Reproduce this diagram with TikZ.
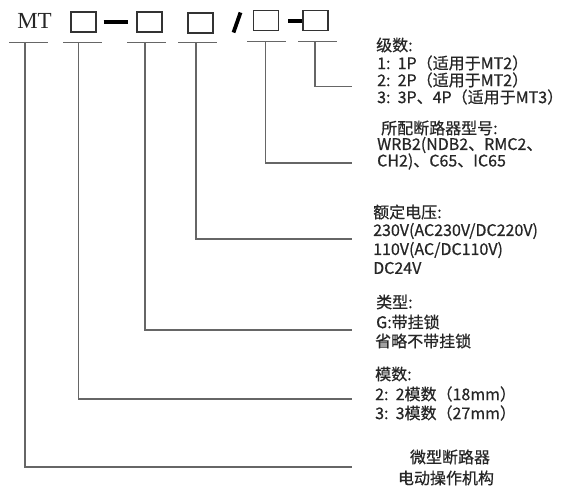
\documentclass[tikz,border=0pt]{standalone}
\usepackage{fontspec}
\setmainfont{Noto Sans CJK SC}[FakeBold=0.6]
\newfontfamily\mtfont{Liberation Serif}
\begin{document}
\begin{tikzpicture}[x=1pt,y=-1pt,
  leader/.style={draw=black!60,line width=1.4pt},
  codebox/.style={draw=black!80,line width=1.1pt,fill=white,minimum width=25pt,minimum height=20pt,inner sep=0pt},
  heavy/.style={line width=4pt,black},
  lab/.style={anchor=west,inner sep=0pt,font=\fontsize{16}{17}\selectfont,text=black!85},
]
\useasboundingbox (0,0) rectangle (563,488);
% code line
\node[font=\mtfont\fontsize{23}{24}\selectfont,text=black!85,inner sep=0pt] (mt) at (34.5,21) {MT};
\node[codebox] (b1) at (83.5,22) {};
\node[codebox] (b2) at (149.5,22) {};
\node[codebox] (b3) at (200.5,23) {};
\node[codebox] (b4) at (266,20.5) {};
\node[codebox] (b5) at (315.5,20.5) {};
\draw[heavy] (b1.east)+(7,0) -- ([xshift=-8pt]b2.west);
\draw[heavy] ([xshift=9pt]b4.east) -- (b5.west);
\draw[heavy,line width=3.8pt] (233.5,32.5) -- (240.5,12.5);
% bars
\foreach \n/\a/\b/\y in {1/9/48/42.5,2/63/102/42.5,3/127/166/42.5,4/178/217/42.5,5/247/286/41.7,6/298/337/41.7}{
  \draw[leader] (\a,\y) -- (\b,\y);
}
\coordinate (t1) at (25,42.5);
\coordinate (t2) at (78.5,42.5);
\coordinate (t3) at (145,42.5);
\coordinate (t4) at (196,42.5);
\coordinate (t5) at (265.5,41.7);
\coordinate (t6) at (315,41.7);
\coordinate (e6) at (352,86.5);
\coordinate (e5) at (352,163);
\coordinate (e4) at (352,239);
\coordinate (e3) at (352,330);
\coordinate (e2) at (352,399);
\coordinate (e1) at (352,467);
\foreach \i in {1,...,6}{ \draw[leader] (t\i) |- (e\i); }
% labels
\node[lab] (l6a) at (376,45) {级数:};
\node[lab] (l6b) at (377,63) {1:\ \ 1P（适用于MT2）};
\node[lab] (l6c) at (377,80) {2:\ \ 2P（适用于MT2）};
\node[lab] (l6d) at (377,97) {3:\ \ 3P、4P（适用于MT3）};
\node[lab] (l5a) at (381,128) {所配断路器型号:};
\node[lab] (l5b) at (377,145) {WRB2(NDB2、RMC2、};
\node[lab] (l5c) at (377,161.5) {CH2)、C65、IC65};
\node[lab] (l4a) at (373,212) {额定电压:};
\node[lab] (l4b) at (373,231) {230V(AC230V/DC220V)};
\node[lab] (l4c) at (373,250) {110V(AC/DC110V)};
\node[lab] (l4d) at (373,268) {DC24V};
\node[lab] (l3a) at (376,302) {类型:};
\node[lab] (l3b) at (376,322) {G:带挂锁};
\node[lab] (l3c) at (375,341) {省略不带挂锁};
\node[lab] (l2a) at (375,374) {模数:};
\node[lab] (l2b) at (375,394) {2:\ \ 2模数（18mm）};
\node[lab] (l2c) at (375,413) {3:\ \ 3模数（27mm）};
\node[lab,anchor=center] (l1a) at (450,457) {微型断路器};
\node[lab,anchor=center] (l1b) at (446,478) {电动操作机构};
\end{tikzpicture}
\end{document}
